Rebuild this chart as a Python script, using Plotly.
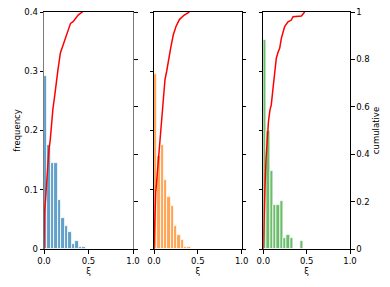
import numpy as np
import plotly.graph_objects as go

# ---- data ----
freq_1 = [0.292, 0.175, 0.145, 0.145, 0.082, 0.052, 0.038, 0.028, 0.009, 0.014, 0.0035, 0.0035]
freq_2 = [0.295, 0.157, 0.176, 0.117, 0.087, 0.072, 0.038, 0.023, 0.015, 0.0035, 0.0035]
freq_3 = [0.352, 0.200, 0.131, 0.075, 0.075, 0.081, 0.019, 0.024, 0.019, 0.0, 0.0, 0.014]
bin_width = [0.039, 0.038, 0.0385]

cdf_x_1 = [0, 0.006, 0.017, 0.025, 0.04, 0.055, 0.07, 0.082, 0.1, 0.119, 0.138, 0.157, 0.184, 0.214, 0.252,
           0.28, 0.298, 0.327, 0.358, 0.384, 0.42, 0.434]
cdf_y_1 = [0, 0.157, 0.207, 0.263, 0.34, 0.418, 0.46, 0.516, 0.59, 0.643, 0.714, 0.757, 0.827, 0.86, 0.9,
           0.924, 0.952, 0.959, 0.973, 0.987, 0.997, 1.0]
cdf_x_2 = [0, 0.0076, 0.019, 0.03, 0.049, 0.068, 0.087, 0.106, 0.125, 0.144, 0.163, 0.19, 0.22, 0.251,
           0.289, 0.315, 0.342, 0.372, 0.403]
cdf_y_2 = [0, 0.151, 0.235, 0.285, 0.376, 0.46, 0.559, 0.644, 0.714, 0.749, 0.799, 0.848, 0.904, 0.939,
           0.968, 0.979, 0.986, 0.993, 1.0]
cdf_x_3 = [0, 0.008, 0.0196, 0.031, 0.046, 0.06, 0.077, 0.092, 0.112, 0.131, 0.15, 0.17, 0.189, 0.208,
           0.227, 0.246, 0.285, 0.323, 0.343, 0.439, 0.477]
cdf_y_3 = [0, 0.186, 0.263, 0.376, 0.496, 0.54, 0.587, 0.608, 0.678, 0.748, 0.805, 0.83, 0.847, 0.889,
           0.917, 0.938, 0.959, 0.966, 0.98, 0.983, 1.0]

freq_ticks = [0, 0.1, 0.2, 0.3, 0.4]
freq_tick_text = ["0", "0.1", "0.2", "0.3", "0.4"]
cum_ticks = [0, 0.2, 0.4, 0.6, 0.8, 1]
cum_tick_text = ["0", "0.2", "0.4", "0.6", "0.8", "1"]
x_ticks = [0, 0.5, 1.0]
x_tick_text = ["0.0", "0.5", "1.0"]

bar_colors = ["#62a0ca", "#ffa556", "#6bbc6b"]

freqs = [freq_1, freq_2, freq_3]
cdfs = [(cdf_x_1, cdf_y_1), (cdf_x_2, cdf_y_2), (cdf_x_3, cdf_y_3)]

W, H = 390, 287
ml, mr, mt, mb = 44, 40, 12, 38
pw = W - ml - mr
panel_px = [(44, 133), (154, 241.7), (263.3, 350)]
domains = [[(a - ml) / pw, (b - ml) / pw] for a, b in panel_px]
domains[0][0] = 0.0
domains[2][1] = 1.0

FONT = "DejaVu Sans"
TXT = dict(family=FONT, size=8.5, color="black")
fig = go.Figure()

for i in range(3):
    f = freqs[i]
    w = bin_width[i]
    centers = (np.arange(len(f)) + 0.5) * w
    xa = "x" if i == 0 else f"x{i+1}"
    yl = "y" if i == 0 else f"y{2*i+1}"
    yr = f"y{2*i+2}"
    fig.add_trace(go.Bar(x=centers, y=f, width=w, xaxis=xa, yaxis=yl,
                         marker=dict(color=bar_colors[i], line=dict(color="white", width=0.8)),
                         showlegend=False))
    cx, cy = cdfs[i]
    fig.add_trace(go.Scatter(x=cx, y=cy, mode="lines", xaxis=xa, yaxis=yr,
                             line=dict(color="red", width=1.5), showlegend=False))

layout = dict(width=W, height=H, margin=dict(l=ml, r=mr, t=mt, b=mb, autoexpand=False),
              plot_bgcolor="white", paper_bgcolor="white",
              font=TXT, bargap=0)

for i in range(3):
    xk = "xaxis" if i == 0 else f"xaxis{i+1}"
    ylk = "yaxis" if i == 0 else f"yaxis{2*i+1}"
    yrk = f"yaxis{2*i+2}"
    xa_anchor = "y" if i == 0 else f"y{2*i+1}"
    xname = "x" if i == 0 else f"x{i+1}"
    spine = "#7a7a7a" if i == 0 else "black"
    layout[xk] = dict(domain=domains[i], range=[0, 1], anchor=xa_anchor, automargin=False,
                      tickvals=x_ticks, ticktext=x_tick_text, ticks="outside", ticklen=3.5,
                      tickwidth=0.8, tickcolor="black", tickfont=TXT,
                      showline=True, linecolor="black", linewidth=1, mirror=True,
                      showgrid=False, zeroline=False,
                      title=dict(text="ξ", font=TXT, standoff=1))
    layout[ylk] = dict(domain=[0, 1], range=[0, 0.4], anchor=xname, side="left", automargin=False,
                       tickvals=freq_ticks, ticktext=freq_tick_text, ticks="outside", ticklen=3.5,
                       tickwidth=0.8, tickcolor="black", tickfont=TXT,
                       showticklabels=(i == 0),
                       showline=True, linecolor=spine, linewidth=1,
                       showgrid=False, zeroline=False)
    if i == 0:
        layout[ylk]["title"] = dict(text="frequency", font=TXT, standoff=2)
    layout[yrk] = dict(range=[0, 1], anchor=xname, overlaying=ylk.replace("axis", ""), side="right",
                       automargin=False,
                       tickvals=cum_ticks, ticktext=cum_tick_text, ticks="outside", ticklen=3.5,
                       tickwidth=0.8, tickcolor="black", tickfont=TXT,
                       showticklabels=(i == 2),
                       showline=True, linecolor=spine, linewidth=1,
                       showgrid=False, zeroline=False)
    if i == 2:
        layout[yrk]["title"] = dict(text="cumulative", font=TXT, standoff=4)

fig.update_layout(**layout)
fig.write_html("out.html", config={"displayModeBar": False},
               post_script="document.body.style.margin='0px';document.body.style.padding='0px';")
